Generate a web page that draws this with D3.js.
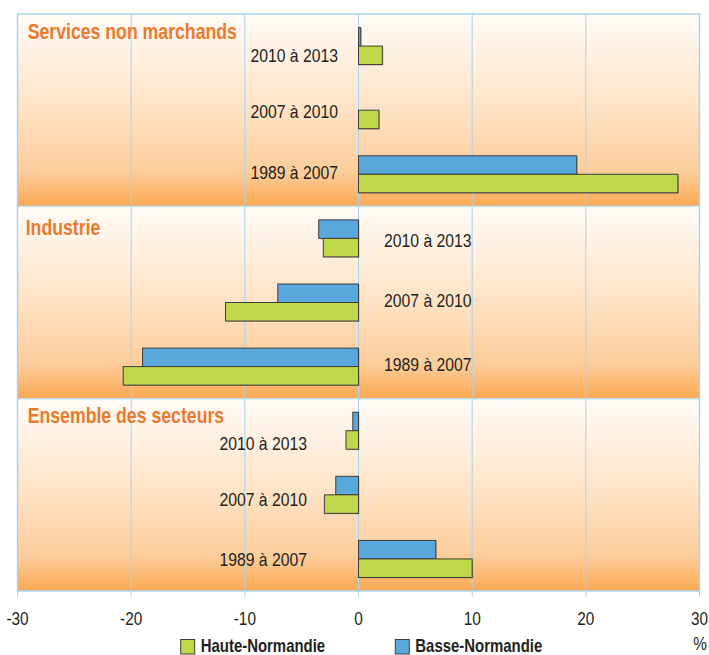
<!DOCTYPE html>
<html>
<head>
<meta charset="utf-8">
<title>emploi normandie</title>
<script src="https://cdn.jsdelivr.net/npm/d3@7"></script>
<style>
  body {margin:0;background:#fff;}
  svg text {font-family:"Liberation Sans", Arial, sans-serif;}
</style>
</head>
<body>
<svg id="chart" width="709" height="655"></svg>
<script>
// donnees (%)
var sectors = ["Services non marchands", "Industrie", "Ensemble des secteurs"];
var periods = ["2010 à 2013", "2007 à 2010", "1989 à 2007"];
var haute = [[2.1, 1.8, 28.1], [-3.1, -11.7, -20.7], [-1.1, -3.0, 10.0]];
var basse = [[0.2, 0, 19.2], [-3.5, -7.1, -19.0], [-0.5, -2.0, 6.8]];
var tickValues = [-30, -20, -10, 0, 10, 20, 30];
var tickLabels = ["-30", "-20", "-10", "0", "10", "20", "30"];
var seriesNames = ["Haute-Normandie", "Basse-Normandie"];

// mise en page
var plotLeft = 17.5, plotRight = 699.5, plotTop = 14, plotBottom = 591;
var barH = 18.5;
var squeeze = 0.83;   // police etroite
var green = "#bfd849", blue = "#5aa7db", grid = "#a9d4ee";
// position des libelles de chaque panneau
var labelPos = [
  {x: 338, anchor: "end", dy: [9.5, 1, -2.5]},
  {x: 384, anchor: "start", dy: [2, -2.5, -2.5]},
  {x: 307, anchor: "end", dy: [12, 4, 0]}
];
var titleDy = [25.3, 28.3, 24.3];
var titleX = [27.7, 25.7, 27.7];

var svg = d3.select("#chart");

var grad = svg.append("defs").append("linearGradient")
  .attr("id", "fond").attr("x1", 0).attr("y1", 0).attr("x2", 0).attr("y2", 1);
grad.append("stop").attr("offset", "0%").attr("stop-color", "#fffbf7");
grad.append("stop").attr("offset", "45%").attr("stop-color", "#fee5ca");
grad.append("stop").attr("offset", "82%").attr("stop-color", "#fccd9b");
grad.append("stop").attr("offset", "100%").attr("stop-color", "#faa851");

var x = d3.scaleLinear().domain([-30, 30]).range([plotLeft, plotRight]);
var panel = d3.scaleBand().domain(sectors).range([plotTop, plotBottom]);

// texte etroit : on ecrase horizontalement autour du point d'ancrage
function narrowText(g, px, py, str, size, anchor, weight, color) {
  return g.append("g")
    .attr("transform", "translate(" + px + "," + py + ") scale(" + squeeze + ",1)")
    .append("text")
    .attr("text-anchor", anchor)
    .attr("font-size", size)
    .attr("font-weight", weight || "normal")
    .attr("fill", color || "#231f20")
    .text(str);
}

// fonds
svg.selectAll("rect.fond").data(sectors).enter().append("rect")
  .attr("class", "fond")
  .attr("x", plotLeft).attr("y", function(d){return panel(d);})
  .attr("width", plotRight - plotLeft).attr("height", panel.bandwidth())
  .attr("fill", "url(#fond)");

// quadrillage + graduations
svg.selectAll("line.grid").data(tickValues).enter().append("line")
  .attr("class", "grid")
  .attr("x1", function(d){return x(d);}).attr("x2", function(d){return x(d);})
  .attr("y1", plotTop).attr("y2", plotBottom + 6)
  .attr("stroke", grid).attr("stroke-width", 1);

svg.selectAll("line.sep").data(sectors.slice(1)).enter().append("line")
  .attr("class", "sep")
  .attr("x1", plotLeft).attr("x2", plotRight)
  .attr("y1", function(d){return panel(d);}).attr("y2", function(d){return panel(d);})
  .attr("stroke", "#c2e0f0").attr("stroke-width", 1.5);

svg.append("rect")
  .attr("x", plotLeft).attr("y", plotTop)
  .attr("width", plotRight - plotLeft).attr("height", plotBottom - plotTop)
  .attr("fill", "none").attr("stroke", grid).attr("stroke-width", 1.5);

// barres
sectors.forEach(function(s, i) {
  var g = svg.append("g");
  var y = d3.scaleBand().domain(periods).range([panel(s), panel(s) + panel.bandwidth()]);
  var rows = periods.map(function(p, j) {
    return {p: p, h: haute[i][j], b: basse[i][j], c: y(p) + y.bandwidth() / 2, j: j};
  });

  function bars(key, color, off) {
    var shown = rows.filter(function(d){return d[key] !== 0;});
    // ombre
    g.selectAll("rect.o" + key).data(shown).enter().append("rect")
      .attr("class", "o" + key)
      .attr("x", function(d){return x(Math.min(0, d[key])) + 1;})
      .attr("y", function(d){return d.c + off + 1;})
      .attr("width", function(d){return Math.abs(x(d[key]) - x(0));})
      .attr("height", barH)
      .attr("fill", "#6b5a3a").attr("opacity", 0.35);
    g.selectAll("rect.b" + key).data(shown).enter().append("rect")
      .attr("class", "b" + key)
      .attr("x", function(d){return x(Math.min(0, d[key]));})
      .attr("y", function(d){return d.c + off;})
      .attr("width", function(d){return Math.abs(x(d[key]) - x(0));})
      .attr("height", barH)
      .attr("fill", color).attr("stroke", "#3e3e3e").attr("stroke-width", 1);
  }
  bars("b", blue, -barH);
  bars("h", green, 0);

  rows.forEach(function(d) {
    narrowText(g, labelPos[i].x, d.c + labelPos[i].dy[d.j] + 6.8, d.p, 19, labelPos[i].anchor);
  });

  narrowText(g, titleX[i], panel(s) + titleDy[i], s, 21.3, "start", "bold", "#e97a2f");
});

// axe
var ax = svg.append("g");
tickValues.forEach(function(v, k) {
  narrowText(ax, x(v), 625, tickLabels[k], 18.5, "middle");
});
narrowText(ax, 700, 650, "%", 18.5, "middle");

// legende
var legX = [180.7, 395.3];
var legColors = [green, blue];
seriesNames.forEach(function(n, k) {
  ax.append("rect")
    .attr("x", legX[k]).attr("y", 639.5).attr("width", 14).attr("height", 14.5)
    .attr("fill", legColors[k]).attr("stroke", "#3e3e3e").attr("stroke-width", 1);
  narrowText(ax, legX[k] + 20, 651.5, n, 18, "start", "bold", "#231f20");
});
</script>
</body>
</html>
